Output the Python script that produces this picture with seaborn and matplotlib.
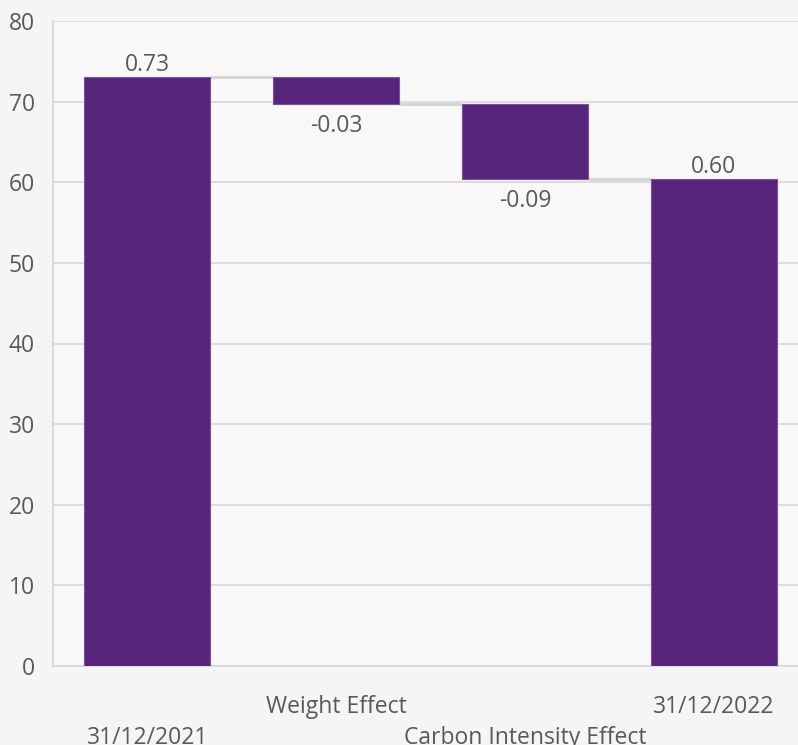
import matplotlib
matplotlib.use("Agg")
import matplotlib.pyplot as plt
import seaborn as sns
import numpy as np
import pandas as pd

# ---- data ----
categories = ["31/12/2021", "Weight Effect", "Carbon Intensity Effect", "31/12/2022"]
start_value = 73.1
changes = [-3.4, -9.3]
value_labels = ["0.73", "-0.03", "-0.09", "0.60"]
y_ticks = [0, 10, 20, 30, 40, 50, 60, 70, 80]

# waterfall geometry derived from the data
end_value = start_value + sum(changes)
levels = [start_value]
for c in changes:
    levels.append(levels[-1] + c)
heights = [start_value] + [abs(c) for c in changes] + [end_value]
bottoms = [0.0] + [min(levels[i], levels[i + 1]) for i in range(len(changes))] + [0.0]
tops = [b + h for b, h in zip(bottoms, heights)]
is_negative = [False] + [c < 0 for c in changes] + [False]

df = pd.DataFrame({"category": categories, "height": heights, "bottom": bottoms})

sns.set_theme(style="white")
plt.rcParams["font.family"] = ["Open Sans", "DejaVu Sans"]

BG = "#f5f5f5"
GRID = "#d9d9d9"
TXT = "#595959"
BAR = "#57257b"
FS = 16.5

fig = plt.figure(figsize=(7.98, 7.45), dpi=100, facecolor=BG)
ax = fig.add_axes([53 / 798, 79 / 745, 755 / 798, 645 / 745])
ax.set_facecolor("#f8f8f8")

sns.barplot(data=df, x="category", y="height", bottom=df["bottom"].values,
            color=BAR, saturation=1, width=0.667, edgecolor="#7d4fa0",
            linewidth=0.8, ax=ax, zorder=3)

ax.set_xlim(-0.5, 3.5)
ax.set_ylim(0, 80)
ax.set_yticks(y_ticks)
ax.set_yticklabels([str(t) for t in y_ticks])
ax.yaxis.grid(True, color=GRID, linewidth=1.3, zorder=0)
ax.set_axisbelow(True)

# connectors
half = 0.667 / 2
conn_levels = [start_value] + [levels[i + 1] for i in range(len(changes))]
for i, lv in enumerate(conn_levels):
    ax.plot([i + half, i + 1 - half], [lv, lv], color="#d6d6d6", lw=2.2, zorder=2,
            solid_capstyle="butt")

# value labels
for i, (lab, neg) in enumerate(zip(value_labels, is_negative)):
    if neg:
        ax.annotate(lab, (i, bottoms[i]), xytext=(0, -7.5), textcoords="offset points",
                    ha="center", va="top", fontsize=FS, color=TXT)
    else:
        ax.annotate(lab, (i, tops[i]), xytext=(0, 0), textcoords="offset points",
                    ha="center", va="bottom", fontsize=FS, color=TXT)

# staggered category labels
tick_labels = []
for i, c in enumerate(categories):
    tick_labels.append("\n" + c if i in (0, 2) else c)
ax.set_xticks(range(len(categories)))
ax.set_xticklabels(tick_labels, fontsize=FS, color=TXT, linespacing=1.38)
ax.tick_params(axis="x", length=0, pad=21)
ax.tick_params(axis="y", length=0, pad=13, labelsize=FS, labelcolor=TXT)
ax.set_xlabel("")
ax.set_ylabel("")

for s in ["top", "right"]:
    ax.spines[s].set_visible(False)
for s in ["left", "bottom"]:
    ax.spines[s].set_color(GRID)
    ax.spines[s].set_linewidth(1.3)

fig.savefig("out.png", dpi=100, facecolor=BG)
